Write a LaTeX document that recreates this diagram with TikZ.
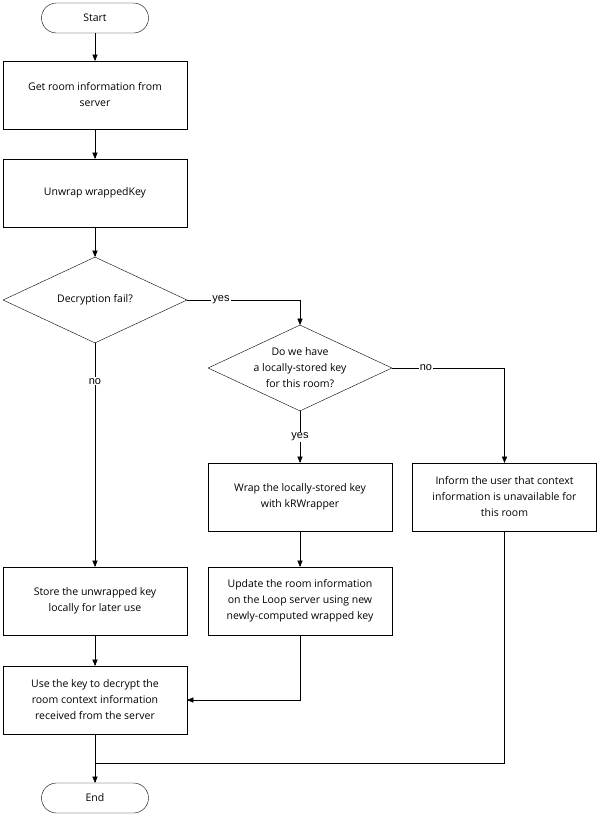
\documentclass[tikz,border=0pt]{standalone}
\usepackage{fontspec}
\setmainfont{Open Sans}
\newfontfamily\labelfont{Liberation Sans}
\usetikzlibrary{positioning,arrows,shapes.geometric}

\begin{document}
\begin{tikzpicture}[x=1pt,y=-1pt,
    boxnode/.style={rectangle, draw=black, thin, minimum width=184pt, minimum height=68pt, align=center, font=\fontsize{10.5}{16}\selectfont},
    termnode/.style={rectangle, rounded corners=15pt, draw=black, thin, minimum width=107pt, minimum height=30pt, font=\fontsize{10.5}{14}\selectfont},
    decnode/.style={diamond, draw=black, thin, minimum width=184pt, minimum height=86pt, aspect=2.14, inner sep=0pt, align=center, font=\fontsize{10.5}{16}\selectfont},
    lbl/.style={font=\labelfont\fontsize{11}{13}\selectfont, fill=white, inner sep=1pt},
    flow/.style={->, >=triangle 45, draw=black, thin}
    ]
        \useasboundingbox (0,0) rectangle (600,815);
        %Nodes
        \node[termnode] (start) at (95,18)  {Start};
        \node[boxnode]  (info)  at (95,95)  {Get room information from\\server};
        \node[boxnode]  (unwrap) at (95,193) {Unwrap wrappedKey};
        \node[decnode]  (fail)  at (95,300) {Decryption fail?};
        \node[decnode]  (local) at (300,368) {Do we have\\a locally-stored key\\for this room?};
        \node[boxnode]  (wrap)  at (300,497) {Wrap the locally-stored key\\with kRWrapper};
        \node[boxnode]  (inform) at (504.5,497) {Inform the user that context\\information is unavailable for\\this room};
        \node[boxnode]  (store) at (95,601) {Store the unwrapped key\\locally for later use};
        \node[boxnode]  (update) at (300,601) {Update the room information\\on the Loop server using new\\newly-computed wrapped key};
        \node[boxnode]  (use)   at (95,700) {Use the key to decrypt the\\room context information\\received from the server};
        \node[termnode] (end)   at (95,798) {End};
        \coordinate (join) at (95,763);

        %Lines
        \draw[flow] (start) -- (info);
        \draw[flow] (info) -- (unwrap);
        \draw[flow] (unwrap) -- (fail);
        \draw[flow] (fail.east) -- node[lbl, pos=0.3] {yes} (300,300) -- (local.north);
        \draw[flow] (fail.south) -- node[lbl, pos=0.17] {no} (store.north);
        \draw[flow] (local.east) -- node[lbl, pos=0.3] {no} (inform.north |- local.east) -- (inform.north);
        \draw[flow] (local.south) -- node[lbl] {yes} (wrap.north);
        \draw[flow] (wrap) -- (update);
        \draw[flow] (store) -- (use);
        \draw[flow] (update.south) -- (update.south |- use.east) -- (use.east);
        \draw[thin] (inform.south) -- (inform.south |- join) -- (join);
        \draw[flow] (use.south) -- (end.north);
    \end{tikzpicture}
\end{document}
